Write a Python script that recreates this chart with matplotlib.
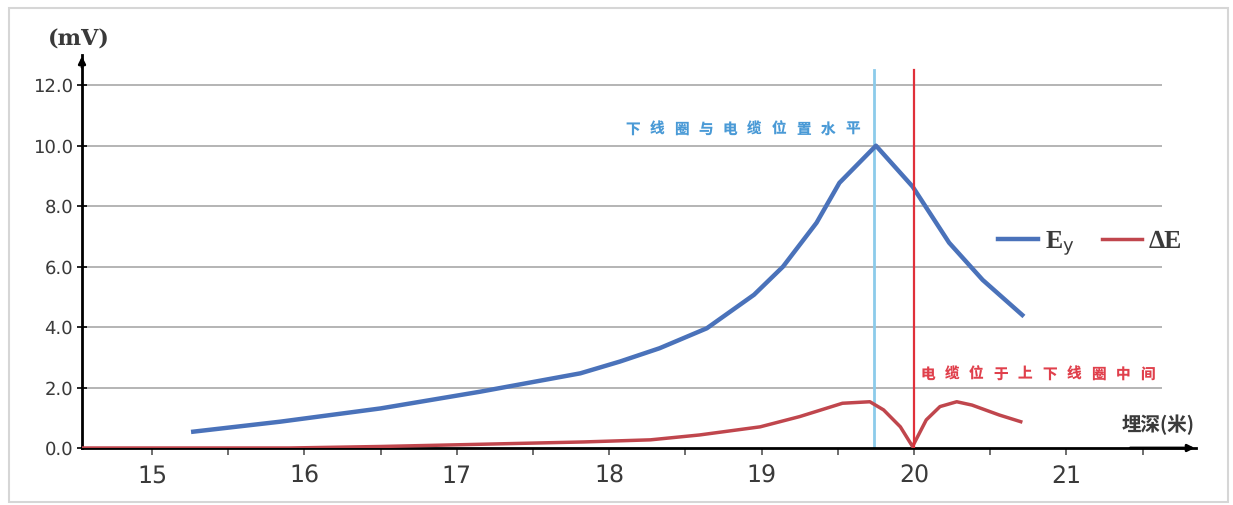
import matplotlib
matplotlib.use("Agg")
import matplotlib.pyplot as plt
from matplotlib.patches import Rectangle

plt.rcParams["font.family"] = ["DejaVu Sans", "Noto Sans CJK SC"]
plt.rcParams["text.hinting"] = "no_hinting"

# data
depth_ey = [15.27, 15.84, 16.5, 17.15, 17.81, 18.07, 18.33, 18.64, 18.95, 19.14,
            19.36, 19.51, 19.75, 19.99, 20.23, 20.45, 20.71]
ey = [0.54, 0.87, 1.31, 1.86, 2.47, 2.86, 3.30, 3.96, 5.07, 6.0,
      7.45, 8.77, 10.0, 8.65, 6.79, 5.56, 4.4]
depth_de = [14.54, 15.9, 16.5, 16.95, 17.83, 18.27, 18.59, 18.99, 19.25, 19.53,
            19.71, 19.8, 19.91, 19.99, 20.08, 20.17, 20.28, 20.38, 20.56, 20.7]
delta_e = [0.0, 0.0, 0.05, 0.1, 0.2, 0.27, 0.43, 0.7, 1.04, 1.48,
           1.53, 1.26, 0.7, 0.05, 0.93, 1.37, 1.53, 1.42, 1.09, 0.87]
y_ticks = [0, 2, 4, 6, 8, 10, 12]
x_ticks = [15, 16, 17, 18, 19, 20, 21]
x_minor = [15.5, 16.5, 17.5, 18.5, 19.5, 20.5, 21.5]
coil_level = 19.74
coil_middle = 20.0
label_level = "下线圈与电缆位置水平"
label_middle = "电缆位于上下线圈中间"

blue = "#4a72ba"
red = "#c0464d"


def spaced_text(ax, x, y, s, pitch, **kw):
    # the reference draws these notes with wide letter spacing
    for i, ch in enumerate(s):
        ax.annotate(ch, xy=(x, y), xytext=(i * pitch, 0), textcoords="offset points",
                    ha="left", va="baseline", **kw)


fig = plt.figure(figsize=(12.33, 5.05), dpi=100)
fig.patches.append(Rectangle((9 / 1233, 3 / 505), 1219 / 1233, 494 / 505,
                             transform=fig.transFigure, fill=False,
                             edgecolor="#d6d6d6", lw=1.5))
ax = fig.add_axes([82 / 1233, 57 / 505, 1114 / 1233, 393 / 505])
ax.set_xlim(14.54, 21.85)
ax.set_ylim(0, 13.0)

for v in y_ticks[1:]:
    ax.plot([14.54, 21.62], [v, v], color="#b4b4b4", lw=1.4, zorder=1)

ax.plot(depth_ey, ey, color=blue, lw=3.2, zorder=3, label="E$_\\mathrm{y}$")
ax.plot(depth_de, delta_e, color=red, lw=2.5, zorder=3, label="ΔE")
ax.plot([coil_level, coil_level], [0, 12.5], color="#8ccbea", lw=2, zorder=2)
ax.plot([coil_middle, coil_middle], [0, 12.5], color="#e0303a", lw=1.6, zorder=4)

spaced_text(ax, 15 + (625 - 152) / 152.4, 10.4, label_level, 17.6,
            color="#4a9ad6", fontsize=10.5, family="Noto Sans CJK SC", fontweight="bold")
spaced_text(ax, 15 + (920 - 152) / 152.4, 2.3, label_middle, 17.6,
            color="#e0404c", fontsize=10.5, family="Noto Sans CJK SC", fontweight="bold")

for s in ["top", "right"]:
    ax.spines[s].set_visible(False)
for s in ["left", "bottom"]:
    ax.spines[s].set_linewidth(2)
ax.annotate("", xy=(21.86, 0), xytext=(21.4, 0),
            arrowprops=dict(arrowstyle="-|>", color="black", lw=2), annotation_clip=False)
ax.annotate("", xy=(14.54, 13.05), xytext=(14.54, 12.5),
            arrowprops=dict(arrowstyle="-|>", color="black", lw=2), annotation_clip=False)

ax.set_yticks(y_ticks)
ax.set_yticklabels([f"{v:.1f}" for v in y_ticks], fontsize=13, color="#3a3a3a")
ax.set_xticks(x_ticks)
ax.set_xticklabels([str(v) for v in x_ticks], fontsize=17, color="#3a3a3a")
ax.set_xticks(x_minor, minor=True)
ax.tick_params(axis="x", which="both", direction="out", length=5, width=1.2,
               color="#555555", pad=7)
ax.tick_params(axis="y", direction="inout", length=7, width=1.2, pad=3)

ax.text(14.52, 13.5, "(mV)", fontsize=16, ha="center", va="center",
        family="DejaVu Serif", fontweight="bold", color="#3a3a3a")
ax.text(21.84, 0.76, "埋深(米)", fontsize=14, ha="right", va="center",
        family="Noto Sans CJK SC", fontweight="bold", color="#3a3a3a")

ax.legend(loc="center left", bbox_to_anchor=((998 - 82) / 1114, 6.75 / 13),
          frameon=False, ncol=2, borderpad=0, borderaxespad=0,
          handlelength=1.56, handletextpad=0.25, columnspacing=1.1,
          prop={"family": "Liberation Serif", "size": 18.5, "weight": "bold"})
for t in ax.get_legend().get_texts():
    t.set_color("#3a3a3a")

fig.savefig("out.png", dpi=100)
